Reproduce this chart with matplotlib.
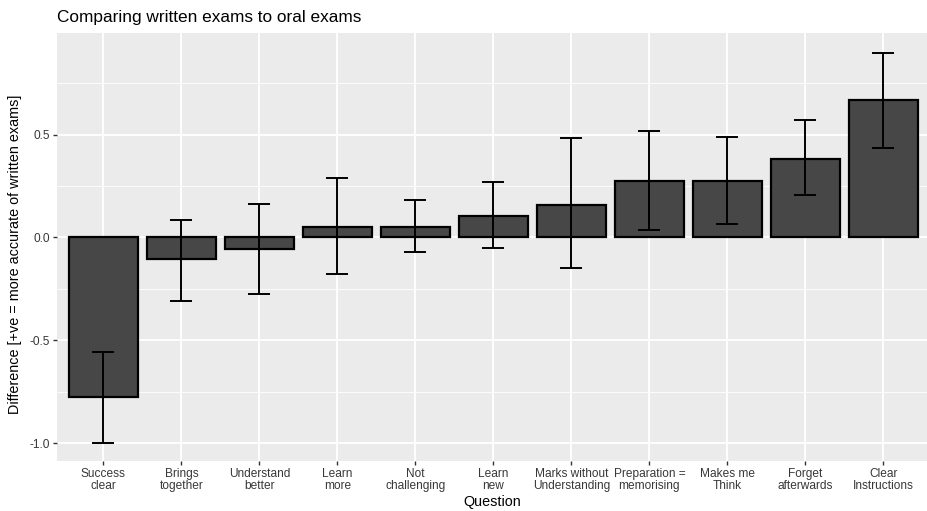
import matplotlib
matplotlib.use("Agg")
import matplotlib.pyplot as plt
import numpy as np

categories = ["Success\nclear", "Brings\ntogether", "Understand\nbetter", "Learn\nmore",
              "Not\nchallenging", "Learn\nnew", "Marks without\nUnderstanding",
              "Preparation =\nmemorising", "Makes me\nThink", "Forget\nafterwards",
              "Clear\nInstructions"]
means = [-0.777, -0.107, -0.055, 0.050, 0.050, 0.103, 0.160, 0.275, 0.275, 0.382, 0.666]
upper = [-0.558, 0.083, 0.164, 0.290, 0.180, 0.268, 0.482, 0.516, 0.487, 0.569, 0.896]
lower = [-1.000, -0.307, -0.277, -0.180, -0.071, -0.049, -0.150, 0.037, 0.063, 0.205, 0.437]
yticks = [-1.0, -0.5, 0.0, 0.5]
ytick_labels = ["-1.0", "-0.5", "0.0", "0.5"]

plt.rcParams['font.family'] = ['Liberation Sans', 'DejaVu Sans']

fig = plt.figure(figsize=(9.28, 5.11), dpi=100)
ax = fig.add_axes([0.0609, 0.0984, 0.9381, 0.8364])
ax.set_facecolor("#EBEBEB")

x = np.arange(len(categories))
ax.bar(x, means, width=0.885, color="#474747", edgecolor="black", linewidth=1.6, zorder=3)
m = np.array(means); u = np.array(upper); l = np.array(lower)
ax.errorbar(x, m, yerr=[m - l, u - m], fmt="none", ecolor="black", elinewidth=1.4,
            capsize=7.6, capthick=1.4, zorder=4)

ax.set_xlim(-0.6, 10.56)
ax.set_ylim(-1.085, 0.992)
ax.set_yticks(yticks)
ax.set_yticklabels(ytick_labels)
ax.set_yticks([-0.75, -0.25, 0.25, 0.75], minor=True)
ax.set_xticks(x)
ax.set_xticklabels(categories, linespacing=1.05)
ax.grid(which="major", color="white", linewidth=1.3, zorder=0)
ax.grid(which="minor", axis="y", color="white", linewidth=0.6, zorder=0)
ax.set_axisbelow(True)
for s in ax.spines.values():
    s.set_visible(False)
ax.tick_params(axis="both", which="major", length=3, width=1, color="#333333",
               labelsize=8.6, labelcolor="#383838", pad=2)
ax.tick_params(axis="y", which="minor", length=0)

ax.set_xlabel("Question", fontsize=10.4, labelpad=2)
ax.set_ylabel("Difference [+ve = more accurate of written exams]", fontsize=10.4)
ax.yaxis.set_label_coords(-0.040, 0.482)
ax.set_title("Comparing written exams to oral exams", fontsize=12.4, loc="left", pad=8)

fig.savefig("out.png", dpi=100)
